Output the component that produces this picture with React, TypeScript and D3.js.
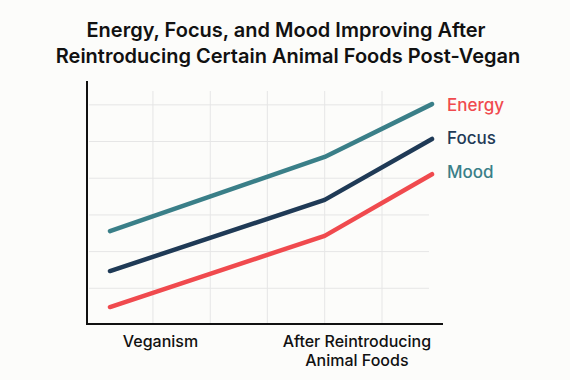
import React from "react";
import * as d3 from "d3";

const xPositions = [0, 1, 1.5];
const tealValues = [2.56, 4.58, 6.02];
const navyValues = [1.47, 3.41, 5.07];
const redValues = [0.49, 2.43, 4.11];
const legendLabels = ["Energy", "Focus", "Mood"];
const yGridValues = [1, 2, 3, 4, 5, 6];
const xGridValues = [0.2, 0.467, 0.733, 1.0, 1.267];
const categoryLabels = [
  { lines: ["Veganism"], x: 0.235 },
  { lines: ["After Reintroducing", "Animal Foods"], x: 1.15 },
];

const W = 570, H = 380;
const FONT = "Inter, 'Noto Sans', sans-serif";

export default function App() {
  const x = d3.scaleLinear().domain([0, 1.5]).range([110, 432]);
  const y = d3.scaleLinear().domain([0, 6.65]).range([325, 81]);
  const line = d3.line<number>().x((_, i) => x(xPositions[i])).y((d) => y(d));
  const series = [
    { values: tealValues, color: "#3a7f88", label: legendLabels[0], labelColor: "#f04a4e", dy: 7 },
    { values: navyValues, color: "#1f3a56", label: legendLabels[1], labelColor: "#1f3a56", dy: 5 },
    { values: redValues, color: "#f04a4e", label: legendLabels[2], labelColor: "#3a7f88", dy: 4 },
  ];
  return (
    <svg width={W} height={H} style={{ position: "absolute", left: 0, top: 0, background: "#fcfcfa" }}>
      <rect width={W} height={H} fill="#fcfcfa" />
      <text x={286} y={37} textAnchor="middle" fontFamily={FONT} fontSize={20} fontWeight={600} fill="#111">
        Energy, Focus, and Mood Improving After
      </text>
      <text x={288} y={63} textAnchor="middle" fontFamily={FONT} fontSize={20} fontWeight={600} fill="#111">
        Reintroducing Certain Animal Foods Post-Vegan
      </text>
      {yGridValues.map((v) => (
        <line key={"h" + v} x1={89} x2={429} y1={y(v)} y2={y(v)} stroke="#e6e6e6" strokeWidth={1} />
      ))}
      {xGridValues.map((v) => (
        <line key={"v" + v} x1={x(v)} x2={x(v)} y1={91} y2={324} stroke="#e6e6e6" strokeWidth={1} />
      ))}
      <line x1={87} x2={87} y1={81} y2={325} stroke="#111" strokeWidth={2} />
      <line x1={86} x2={443} y1={324} y2={324} stroke="#111" strokeWidth={2} />
      {series.map((s) => (
        <path key={s.label} d={line(s.values) || ""} fill="none" stroke={s.color} strokeWidth={4.5} strokeLinecap="round" strokeLinejoin="round" />
      ))}
      {series.map((s) => (
        <text key={"l" + s.label} x={447} y={y(s.values[2]) + s.dy} fontFamily={FONT} fontSize={17} fontWeight={500} fill={s.labelColor}>
          {s.label}
        </text>
      ))}
      {categoryLabels.map((c) => (
        <text key={c.lines[0]} x={x(c.x)} textAnchor="middle" fontFamily={FONT} fontSize={16} fontWeight={500} fill="#111">
          {c.lines.map((ln, i) => (
            <tspan key={i} x={x(c.x)} y={347 + i * 19}>{ln}</tspan>
          ))}
        </text>
      ))}
    </svg>
  );
}
